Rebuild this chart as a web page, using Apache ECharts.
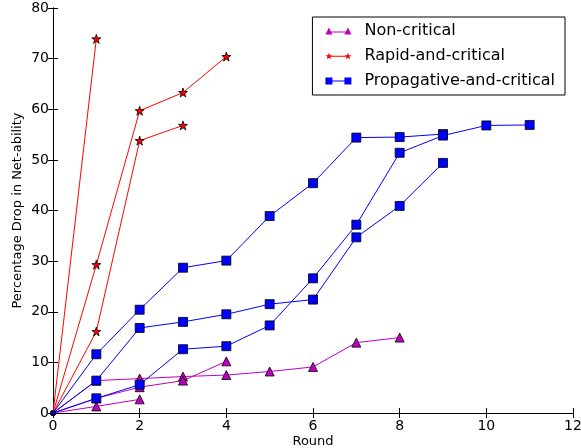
<!DOCTYPE html>
<html>
<head>
<meta charset="utf-8">
<script src="https://cdn.jsdelivr.net/npm/echarts@6/dist/echarts.min.js"></script>
<style>
	html, body { margin: 0; padding: 0; background: #fff; }
	#chart { width: 581px; height: 448px; }
</style>
</head>
<body>
<div id="chart"></div>
<script>
// rounds on the x axis, one value per round for each run
const rounds = [0, 1, 2, 3, 4, 5, 6, 7, 8, 9, 10, 11]
const xTicks = [0, 2, 4, 6, 8, 10, 12]
const yTicks = [0, 10, 20, 30, 40, 50, 60, 70, 80]

const nonCritical1 = [0, 1.3, 2.7]
const nonCritical2 = [0, 6.4, 6.8, 7.2, 7.5, 8.2, 9.1, 13.9, 14.9]
const nonCritical3 = [0, 2.9, 5.1, 6.4, 10.2]

const rapid1 = [0, 73.9]
const rapid2 = [0, 29.3, 59.7, 63.3, 70.4]
const rapid3 = [0, 16.1, 53.8, 56.8]

const prop1 = [0, 11.6, 20.4, 28.7, 30.1, 38.9, 45.4, 54.4, 54.5, 55.1]
const prop2 = [0, 6.4, 16.8, 18.0, 19.5, 21.5, 22.4, 34.7, 40.9, 49.4]
const prop3 = [0, 2.9, 5.6, 12.6, 13.2, 17.3, 26.6, 37.2, 51.4, 54.8, 56.8, 56.9]

const FONT = 'DejaVu Sans'
const STAR = 'path://M50,0 L61.8,35.1 L98.9,35.1 L68.9,56.9 L80.4,92.1 L50,70.3 L19.6,92.1 L31.1,56.9 L1.1,35.1 L38.2,35.1 Z'

const styles = {
	'Non-critical': { color: '#bf00bf', symbol: 'triangle', size: 9 },
	'Rapid-and-critical': { color: '#ff0000', symbol: STAR, size: 9 },
	'Propagative-and-critical': { color: '#0000ff', symbol: 'rect', size: 9 }
}

const makeSeries = (name, values) => {
	const s = styles[name]
	return {
		name: name,
		type: 'line',
		data: values.map((v, i) => [rounds[i], v]),
		symbol: s.symbol,
		// the marker at the origin is mostly clipped by the axes in the original
		symbolSize: val => (val[0] === 0 ? 4 : s.size),
		showAllSymbol: true,
		lineStyle: { color: s.color, width: 1 },
		itemStyle: { color: s.color, borderColor: '#000', borderWidth: 0.8 },
		animation: false
	}
}

const legendIcons = {
	'Non-critical': 'path://M0,8.5 L3.5,1.5 L7,8.5 Z M19,8.5 L22.5,1.5 L26,8.5 Z M5,5.5 L21,5.5 L21,6.5 L5,6.5 Z',
	'Rapid-and-critical': 'path://M3.5,1.5 L4.4,4 L7,4 L4.9,5.6 L5.7,8.2 L3.5,6.6 L1.3,8.2 L2.1,5.6 L0,4 L2.6,4 Z M22.5,1.5 L23.4,4 L26,4 L23.9,5.6 L24.7,8.2 L22.5,6.6 L20.3,8.2 L21.1,5.6 L19,4 L21.6,4 Z M5,4.5 L21,4.5 L21,5.5 L5,5.5 Z',
	'Propagative-and-critical': 'path://M0,1 L7,1 L7,8 L0,8 Z M19,1 L26,1 L26,8 L19,8 Z M6,4 L20,4 L20,5 L6,5 Z'
}

const chart = echarts.init(document.getElementById('chart'), null, { renderer: 'canvas' })

const tickAxis = {
	axisLine: { show: true, lineStyle: { color: '#000', width: 1 } },
	axisTick: { show: true, inside: true, length: 5, lineStyle: { color: '#000' } },
	splitLine: { show: false }
}

chart.setOption({
	backgroundColor: '#fff',
	textStyle: { fontFamily: FONT },
	grid: { left: 53, right: 8, top: 8, bottom: 35, containLabel: false, outerBoundsMode: 'none' },
	legend: {
		orient: 'vertical',
		right: 16,
		top: 17,
		padding: [6, 10, 6, 13],
		itemWidth: 26,
		itemHeight: 9,
		itemGap: 9,
		backgroundColor: '#fff',
		borderColor: '#000',
		borderWidth: 1,
		borderRadius: 0,
		itemStyle: { borderWidth: 0 },
		textStyle: { fontFamily: FONT, fontSize: 16, color: '#000', padding: [0, 0, 0, 8] },
		data: Object.keys(legendIcons).map(n => ({ name: n, icon: legendIcons[n] }))
	},
	xAxis: [
		Object.assign({
			type: 'value',
			min: xTicks[0],
			max: xTicks[xTicks.length - 1],
			interval: 2,
			name: 'Round',
			nameLocation: 'middle',
			nameGap: 22,
			nameMoveOverlap: false,
			nameTextStyle: { fontFamily: FONT, fontSize: 13, color: '#000' },
			axisLabel: { fontFamily: FONT, fontSize: 14, color: '#000', margin: 6 }
		}, tickAxis),
		Object.assign({
			type: 'value',
			position: 'top',
			min: xTicks[0],
			max: xTicks[xTicks.length - 1],
			interval: 2,
			axisLabel: { show: false }
		}, tickAxis)
	],
	yAxis: [
		Object.assign({
			type: 'value',
			min: yTicks[0],
			max: yTicks[yTicks.length - 1],
			interval: 10,
			name: 'Percentage Drop in Net-ability',
			nameLocation: 'middle',
			nameGap: 29,
			nameMoveOverlap: false,
			nameTextStyle: { fontFamily: FONT, fontSize: 13, color: '#000' },
			axisLabel: { fontFamily: FONT, fontSize: 14, color: '#000', margin: 4 }
		}, tickAxis),
		Object.assign({
			type: 'value',
			position: 'right',
			min: yTicks[0],
			max: yTicks[yTicks.length - 1],
			interval: 10,
			axisLabel: { show: false }
		}, tickAxis)
	],
	series: [
		makeSeries('Non-critical', nonCritical1),
		makeSeries('Non-critical', nonCritical2),
		makeSeries('Non-critical', nonCritical3),
		makeSeries('Rapid-and-critical', rapid1),
		makeSeries('Rapid-and-critical', rapid2),
		makeSeries('Rapid-and-critical', rapid3),
		makeSeries('Propagative-and-critical', prop1),
		makeSeries('Propagative-and-critical', prop2),
		makeSeries('Propagative-and-critical', prop3)
	]
})
</script>
</body>
</html>
